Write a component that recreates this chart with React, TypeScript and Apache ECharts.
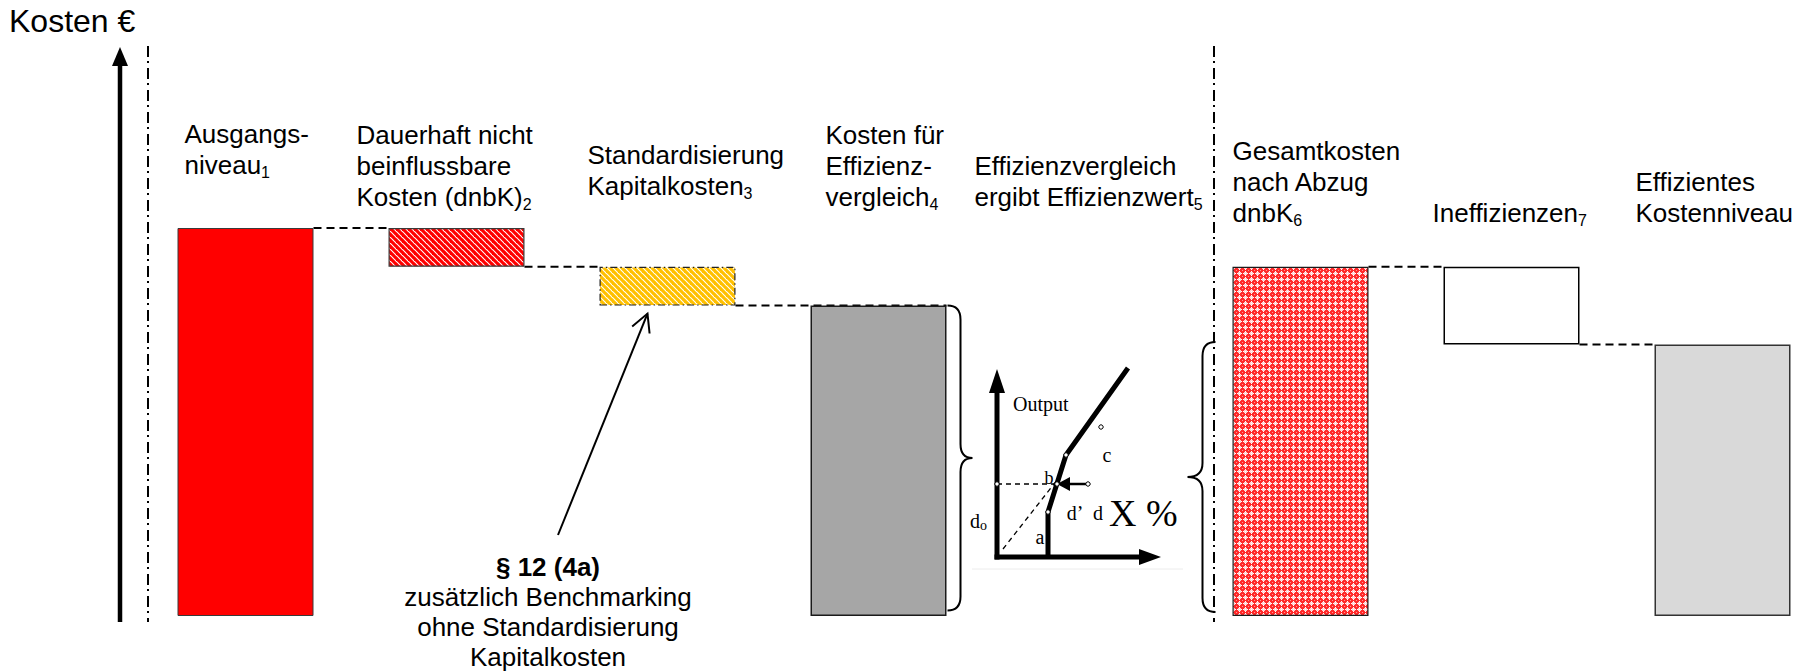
import React, { useEffect, useRef } from 'react';
import * as echarts from 'echarts';

// Cost steps of the efficiency benchmarking scheme (relative cost units)
const categories = [
  'Ausgangsniveau',
  'Dauerhaft nicht beinflussbare Kosten (dnbK)',
  'Standardisierung Kapitalkosten',
  'Kosten für Effizienzvergleich',
  'Effizienzvergleich ergibt Effizienzwert',
  'Gesamtkosten nach Abzug dnbK',
  'Ineffizienzen',
  'Effizientes Kostenniveau',
];
const baseValues: (number | null)[] = [0, 90, 80, 0, null, 0, 70, 0];
const stepValues: (number | null)[] = [100, 10, 10, 80, null, 90, 20, 70];

// Step captions (rich text, {s|..} = subscript)
const labelLines: string[][] = [
  ['Ausgangs-', 'niveau{s|1}'],
  ['Dauerhaft nicht', 'beinflussbare', 'Kosten (dnbK){s|2}'],
  ['Standardisierung', 'Kapitalkosten{s|3}'],
  ['Kosten für', 'Effizienz-', 'vergleich{s|4}'],
  ['Effizienzvergleich', 'ergibt Effizienzwert{s|5}'],
  ['Gesamtkosten', 'nach Abzug', 'dnbK{s|6}'],
  ['Ineffizienzen{s|7}'],
  ['Effizientes', 'Kostenniveau'],
];
const noteLines = ['§ 12 (4a)', 'zusätzlich Benchmarking', 'ohne Standardisierung', 'Kapitalkosten'];

// Connectors between steps: bar edge level ('top' or 'bottom' of the source bar)
const connectors = [
  { from: 0, to: 1, edge: 'top', end: 'left' },
  { from: 1, to: 2, edge: 'bottom', end: 'left' },
  { from: 2, to: 3, edge: 'bottom', end: 'right' },
  { from: 5, to: 6, edge: 'top', end: 'left' },
  { from: 6, to: 7, edge: 'bottom', end: 'left' },
];

// Layout
const FONT = '"Liberation Sans", Arial, sans-serif';
const SERIF = '"Liberation Serif", "Times New Roman", serif';
const BAR_W = 136;
const STEP_W = 211;
const FIRST_X = 245.5;
const Y_MAX = 120;
const PX_PER_UNIT = 3.88;
const BASE_Y = 616;
const LINE_H = 31;
const labelDx = [7, -32, -12, 15, -47, 0, -11, -19];
const labelLastLineY = [165, 197, 186, 197, 197, 213, 213, 213];

function stripeTile(color: string): string {
  const s = 6;
  const c = document.createElement('canvas');
  c.width = s;
  c.height = s;
  const g = c.getContext('2d')!;
  g.fillStyle = '#ffffff';
  g.fillRect(0, 0, s, s);
  g.strokeStyle = color;
  g.lineWidth = 3.2;
  for (let k = -1; k <= 1; k++) {
    g.beginPath();
    g.moveTo(k * s - 1, -1);
    g.lineTo(k * s + s + 1, s + 1);
    g.stroke();
  }
  return c.toDataURL();
}

function crossTile(): string {
  const s = 6;
  const c = document.createElement('canvas');
  c.width = s;
  c.height = s;
  const g = c.getContext('2d')!;
  g.fillStyle = '#ff2a2a';
  g.fillRect(0, 0, s, s);
  g.fillStyle = '#ffffff';
  g.fillRect(3, 1, 1, 5);
  g.fillRect(1, 3, 5, 1);
  g.fillStyle = '#ffd0d0';
  g.fillRect(2, 2, 3, 3);
  g.fillStyle = '#ffffff';
  g.fillRect(3, 3, 1, 1);
  g.fillStyle = '#ff9090';
  g.fillRect(0, 0, 1, 1);
  return c.toDataURL();
}

function bracePath(dir: number, h: number, w: number, v: number, r: number): string {
  // curly brace: ends at x=0, vertical stroke at x=dir*v, tip at x=dir*w
  const m = h / 2;
  const xv = dir * v;
  const xt = dir * w;
  return (
    `M0 0 Q${xv} 0 ${xv} ${r} L${xv} ${m - r} Q${xv} ${m} ${xt} ${m} ` +
    `Q${xv} ${m} ${xv} ${m + r} L${xv} ${h - r} Q${xv} ${h} 0 ${h}`
  );
}

export default function App() {
  const ref = useRef<HTMLDivElement>(null);

  useEffect(() => {
    if (!ref.current) return;
    const chart = echarts.init(ref.current, undefined, { renderer: 'svg' });

    const pat = (src: string) => ({ image: src, repeat: 'repeat', imageWidth: 6, imageHeight: 6 });
    const barStyles: any[] = [
      { color: '#ff0000', borderColor: '#3a3a3a', borderWidth: 1 },
      { color: pat(stripeTile('#ff0000')), borderColor: '#3a3a3a', borderWidth: 1.2 },
      { color: pat(stripeTile('#ffc000')), borderColor: '#222222', borderWidth: 1.2, borderType: [7, 3, 1.5, 3] },
      { color: '#a6a6a6', borderColor: '#1a1a1a', borderWidth: 1.5 },
      null,
      { color: pat(crossTile()), borderColor: '#1a1a1a', borderWidth: 1.2 },
      { color: '#ffffff', borderColor: '#000000', borderWidth: 1.5 },
      { color: '#d9d9d9', borderColor: '#333333', borderWidth: 1.5 },
    ];

    const gridH = Y_MAX * PX_PER_UNIT;
    chart.setOption({
      animation: false,
      grid: { left: FIRST_X, top: BASE_Y - gridH, width: STEP_W * (categories.length - 1), height: gridH },
      xAxis: { type: 'category', data: categories, show: false, boundaryGap: false },
      yAxis: { type: 'value', min: 0, max: Y_MAX, show: false },
      series: [
        {
          type: 'bar',
          stack: 'w',
          barWidth: BAR_W,
          clip: false,
          silent: true,
          itemStyle: { color: 'transparent' },
          data: baseValues.map((v) => (v == null ? '-' : v)),
        },
        {
          type: 'bar',
          stack: 'w',
          barWidth: BAR_W,
          clip: false,
          data: stepValues.map((v, i) => (v == null ? '-' : { value: v, itemStyle: barStyles[i] })),
        },
      ],
    });

    const px = (i: number, v: number) => chart.convertToPixel({ gridIndex: 0 }, [i, v]) as number[];
    const half = BAR_W / 2;
    const els: any[] = [];

    // Axis title and cost arrow
    els.push({
      type: 'text', x: 9, y: 21,
      style: { text: 'Kosten €', fontSize: 32, fontFamily: FONT, fill: '#000', verticalAlign: 'middle' },
    });
    els.push({ type: 'line', shape: { x1: 120, y1: 622, x2: 120, y2: 62 }, style: { stroke: '#000', lineWidth: 4.5 } });
    els.push({ type: 'polygon', shape: { points: [[120, 47], [112, 66], [128, 66]] }, style: { fill: '#000' } });

    // Section separators
    [148, 1214].forEach((x) => {
      els.push({
        type: 'line', shape: { x1: x, y1: 46, x2: x, y2: 622 },
        style: { stroke: '#000', lineWidth: 2, lineDash: [11, 4, 2, 5] },
      });
    });

    // Step captions
    labelLines.forEach((lines, i) => {
      const [cx] = px(i, 0);
      const top = labelLastLineY[i] - (lines.length - 1) * LINE_H - LINE_H / 2;
      els.push({
        type: 'text', x: cx - half + labelDx[i], y: top,
        style: {
          text: lines.join('\n'), fontSize: 26, fontFamily: FONT, fill: '#000',
          lineHeight: LINE_H, verticalAlign: 'top', align: 'left',
          rich: { s: { fontSize: 16, lineHeight: 16, fontFamily: FONT, fill: '#000', verticalAlign: 'bottom' } },
        },
      });
    });

    // Dashed step connectors
    connectors.forEach((c) => {
      const base = baseValues[c.from] as number;
      const level = c.edge === 'top' ? base + (stepValues[c.from] as number) : base;
      const [x0, y] = px(c.from, level);
      const [x1] = px(c.to, level);
      els.push({
        type: 'line',
        shape: { x1: x0 + half, y1: y, x2: c.end === 'left' ? x1 - half : x1 + half, y2: y },
        style: { stroke: '#000', lineWidth: 2, lineDash: [8, 5] },
      });
    });

    // Braces around the benchmarking step
    const [c4x, c4top] = px(3, (baseValues[3] as number) + (stepValues[3] as number));
    const rx = c4x + half + 1;
    echarts.graphic.registerShape('braceRight', echarts.graphic.extendPath(bracePath(1, 305, 25, 13, 14), {}));
    echarts.graphic.registerShape('braceLeft', echarts.graphic.extendPath(bracePath(-1, 270, 28, 13, 14), {}));
    els.push({ type: 'braceRight', x: rx, y: c4top, style: { fill: 'none', stroke: '#000', lineWidth: 2 } });
    const [c6x] = px(5, 0);
    els.push({ type: 'braceLeft', x: c6x - half - 17, y: 342, style: { fill: 'none', stroke: '#000', lineWidth: 2 } });

    // Note on § 12 (4a) with arrow to the capital cost step
    const noteX = 548;
    const noteY = 567;
    const noteLH = 30;
    noteLines.forEach((t, k) => {
      els.push({
        type: 'text', x: noteX, y: noteY + k * noteLH,
        style: {
          text: t, fontSize: 26, fontFamily: FONT, fill: '#000', align: 'center', verticalAlign: 'middle',
          fontWeight: k === 0 ? 'bold' : 'normal',
        },
      });
    });
    const [c3x, c3bottom] = px(2, baseValues[2] as number);
    const tip = [c3x - half + 48, c3bottom + 8];
    const start = [noteX + 10, noteY - 32];
    els.push({ type: 'line', shape: { x1: start[0], y1: start[1], x2: tip[0], y2: tip[1] }, style: { stroke: '#000', lineWidth: 2 } });
    {
      const dx = start[0] - tip[0];
      const dy = start[1] - tip[1];
      const len = Math.hypot(dx, dy);
      const ux = dx / len;
      const uy = dy / len;
      const a = (28 * Math.PI) / 180;
      const L = 20;
      const wing = (s: number) => [
        tip[0] + L * (ux * Math.cos(s * a) - uy * Math.sin(s * a)),
        tip[1] + L * (ux * Math.sin(s * a) + uy * Math.cos(s * a)),
      ];
      els.push({ type: 'polyline', shape: { points: [wing(1), tip, wing(-1)] }, style: { stroke: '#000', lineWidth: 2, fill: 'none' } });
    }

    // DEA frontier sketch
    const O = [997, 557];
    const P = (dx: number, dy: number) => [O[0] + dx, O[1] + dy];
    els.push({ type: 'line', shape: { x1: O[0] - 25, y1: O[1] + 12, x2: O[0] + 186, y2: O[1] + 12 }, style: { stroke: '#ececec', lineWidth: 1 } });
    els.push({ type: 'line', shape: { x1: O[0], y1: O[1] - 73, x2: O[0] + 60, y2: O[1] - 73 }, style: { stroke: '#000', lineWidth: 1.3, lineDash: [5, 4] } });
    els.push({ type: 'line', shape: { x1: O[0] + 6, y1: O[1] - 8, x2: O[0] + 64, y2: O[1] - 82 }, style: { stroke: '#000', lineWidth: 1.3, lineDash: [5, 4] } });
    els.push({ type: 'line', shape: { x1: O[0], y1: O[1] + 2.5, x2: O[0], y2: O[1] - 168 }, style: { stroke: '#000', lineWidth: 5 } });
    els.push({ type: 'polygon', shape: { points: [P(0, -188), P(-8, -164), P(8, -164)] }, style: { fill: '#000' } });
    els.push({ type: 'line', shape: { x1: O[0] - 2.5, y1: O[1], x2: O[0] + 144, y2: O[1] }, style: { stroke: '#000', lineWidth: 5 } });
    els.push({ type: 'polygon', shape: { points: [P(164, 0), P(142, -8), P(142, 8)] }, style: { fill: '#000' } });
    els.push({
      type: 'polyline', shape: { points: [P(51, 0), P(51, -45), P(69, -102), P(131, -189)] },
      style: { stroke: '#000', lineWidth: 5, fill: 'none', lineJoin: 'round' },
    });
    els.push({ type: 'line', shape: { x1: O[0] + 91, y1: O[1] - 73, x2: O[0] + 70, y2: O[1] - 73 }, style: { stroke: '#000', lineWidth: 2.5 } });
    els.push({ type: 'polygon', shape: { points: [P(60, -73), P(73, -80), P(73, -66)] }, style: { fill: '#000' } });
    [[51, -45], [69, -102], [60, -73], [0, -73], [104, -130], [91, -73]].forEach(([dx, dy]) => {
      els.push({ type: 'circle', shape: { cx: O[0] + dx, cy: O[1] + dy, r: 2.2 }, style: { fill: '#fff', stroke: '#000', lineWidth: 1 } });
    });
    const serifText = (text: string, dx: number, dy: number, size: number, align = 'center') => ({
      type: 'text', x: O[0] + dx, y: O[1] + dy,
      style: { text, fontSize: size, fontFamily: SERIF, fill: '#000', align, verticalAlign: 'middle' },
    });
    els.push(serifText('Output', 16, -153, 20, 'left'));
    els.push(serifText('b', 52, -79, 18));
    els.push(serifText('c', 110, -102, 20));
    els.push(serifText('d’', 78, -44, 20));
    els.push(serifText('d', 101, -44, 20));
    els.push(serifText('X %', 112, -44, 38, 'left'));
    els.push(serifText('a', 43, -20, 20));
    els.push({
      type: 'text', x: O[0] - 27, y: O[1] - 36,
      style: {
        text: 'd{o|o}', fontSize: 20, fontFamily: SERIF, fill: '#000', verticalAlign: 'middle', align: 'left', lineHeight: 22,
        rich: { o: { fontSize: 14, lineHeight: 14, fontFamily: SERIF, fill: '#000', verticalAlign: 'bottom' } },
      },
    });

    chart.setOption({ graphic: { elements: els } });

    return () => chart.dispose();
  }, []);

  return <div ref={ref} style={{ position: 'fixed', left: 0, top: 0, width: 1812, height: 672, background: '#fff' }} />;
}
